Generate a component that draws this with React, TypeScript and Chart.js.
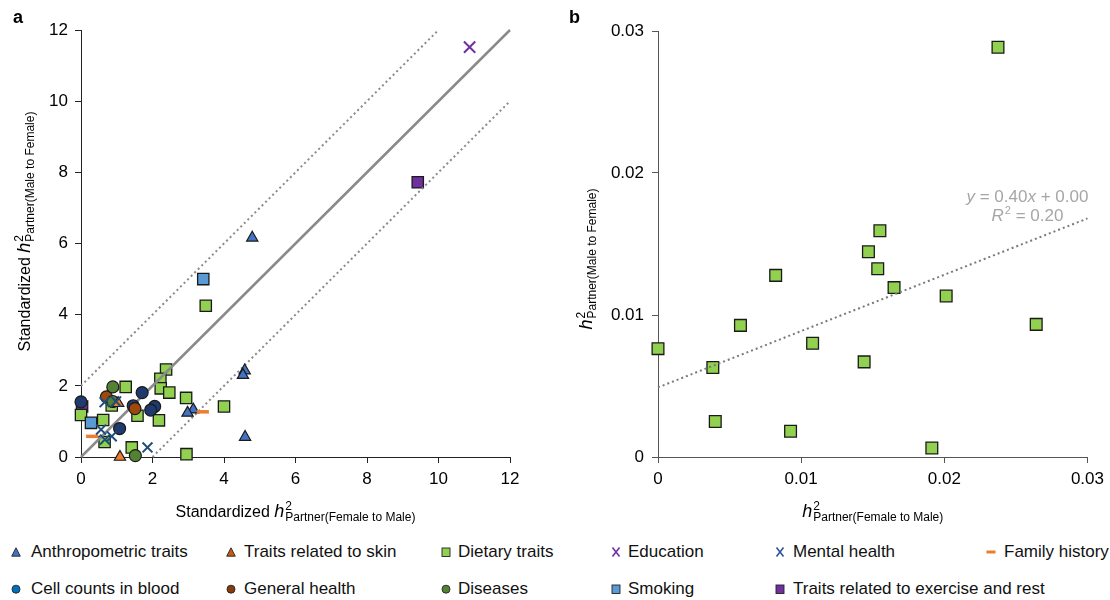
import React, { useEffect, useRef } from "react";
import { Chart, registerables } from "chart.js";
Chart.register(...registerables);

const FONT = "'Liberation Sans', Arial, Helvetica, sans-serif";

// ---------- Panel a data (standardized h2) ----------
const anthropX = [4.79, 4.58, 4.53, 4.59, 3.14, 2.98];
const anthropY = [6.16, 2.43, 2.3, 0.56, 1.33, 1.24];
const skinX = [1.09, 1.04];
const skinY = [0.0, 1.51];
const dietaryX = [3.49, 4.0, 2.94, 2.95, 2.38, 2.22, 2.23, 2.47, 2.18, 1.25, 1.58, 1.42, 0.0, 0.62, 0.66, 0.86];
const dietaryY = [4.25, 1.42, 1.66, 0.08, 2.46, 2.2, 1.93, 1.81, 1.03, 1.97, 1.16, 0.27, 1.18, 1.04, 0.42, 1.45];
const educationX = [10.87];
const educationY = [11.52];
const mentalX = [0.66, 0.98, 0.56, 0.86, 0.67, 1.86];
const mentalY = [1.54, 1.56, 0.77, 0.58, 0.49, 0.27];
const familyX = [0.31, 3.41];
const familyY = [0.58, 1.27];
const cellX = [0.0, 1.71, 2.06, 1.95, 1.46, 1.08];
const cellY = [1.55, 1.81, 1.42, 1.32, 1.44, 0.8];
const generalX = [0.71, 1.51];
const generalY = [1.69, 1.36];
const diseasesX = [0.89, 0.89, 1.52];
const diseasesY = [1.97, 1.56, 0.04];
const smokingX = [3.42, 0.28];
const smokingY = [5.0, 0.96];
const exerciseX = [9.42, 0.03];
const exerciseY = [7.72, 1.42];
const identityX = [0, 12];
const identityY = [0, 12];
const upperX = [0, 10];
const upperY = [2, 12];
const lowerX = [2, 12];
const lowerY = [0, 10];

// ---------- Panel b data (dietary traits, raw h2) ----------
const bX = [0, 0.00383, 0.004, 0.00576, 0.00822, 0.00926, 0.0108, 0.0144, 0.0147, 0.0155, 0.01535, 0.01649, 0.02013, 0.01913, 0.02375, 0.02642];
const bY = [0.00763, 0.0063, 0.0025, 0.00927, 0.01279, 0.00181, 0.00801, 0.0067, 0.01445, 0.01593, 0.01326, 0.01193, 0.01134, 0.00064, 0.02886, 0.00934];
const trendX = [0, 0.03];
const trendY = [0.0049, 0.0168];

// ---------- Legend ----------
const legendRow1 = ["Anthropometric traits", "Traits related to skin", "Dietary traits", "Education", "Mental health", "Family history"];
const legendRow1Shapes = ["triangle", "triangle", "square", "x", "x", "dash"];
const legendRow1Colors = ["#4472C4", "#C55A11", "#92D050", "#7030A0", "#2F5597", "#ED7D31"];
const legendRow2 = ["Cell counts in blood", "General health", "Diseases", "Smoking", "Traits related to exercise and rest"];
const legendRow2Shapes = ["circle", "circle", "circle", "square", "square"];
const legendRow2Colors = ["#0070C0", "#843C0C", "#548235", "#5B9BD5", "#7030A0"];
const legendMarkerX = [16, 231, 446, 616, 780, 991];
const legendTextX = [31, 244, 458, 628, 793, 1004];

const pts = (xs: number[], ys: number[]) => xs.map((x, i) => ({ x, y: ys[i] }));

type Seg = { t: string; f: string; dy?: number; dx?: number; stay?: boolean };

function drawSegs(ctx: CanvasRenderingContext2D, segs: Seg[], x: number, y: number, angle: number, anchor: number, color: string) {
  ctx.save();
  ctx.translate(x, y);
  ctx.rotate(angle);
  ctx.textBaseline = "alphabetic";
  ctx.textAlign = "left";
  ctx.fillStyle = color;
  let w = 0;
  for (const s of segs) {
    ctx.font = s.f;
    if (!s.stay) w += ctx.measureText(s.t).width + (s.dx || 0);
  }
  let cx = -w * anchor;
  for (const s of segs) {
    ctx.font = s.f;
    ctx.fillText(s.t, cx + (s.dx || 0), s.dy || 0);
    if (!s.stay) cx += ctx.measureText(s.t).width + (s.dx || 0);
  }
  ctx.restore();
}

const f = (size: number, style = "") => `${style} ${size}px ${FONT}`.trim();

function hSegs(sub: string, prefix?: string): Seg[] {
  const s: Seg[] = [];
  if (prefix) s.push({ t: prefix, f: f(16) });
  s.push({ t: "h", f: f(18, "italic") });
  s.push({ t: "2", f: f(12), dy: -7, dx: 1, stay: true });
  s.push({ t: sub, f: f(12), dy: 4, dx: 1 });
  return s;
}

function axisOpts(min: number, max: number, step: number, fmt: (v: number) => string, fit: (s: any) => void, axisColor: string, pad: number) {
  return {
    type: "linear" as const,
    min,
    max,
    ticks: {
      stepSize: step,
      color: "#000",
      font: { family: FONT, size: 17 },
      padding: pad,
      callback: (v: any) => fmt(Number(v)),
    },
    grid: { drawOnChartArea: false, drawTicks: true, tickLength: 6, color: axisColor, lineWidth: 1 },
    border: { display: true, color: axisColor, width: 1 },
    afterFit: fit,
  };
}

function pointSet(data: any[], style: string, radius: number, fill: string, stroke: string, bw: number, order: number) {
  return {
    data,
    pointStyle: style,
    pointRadius: radius,
    pointBackgroundColor: fill,
    pointBorderColor: stroke,
    pointBorderWidth: bw,
    backgroundColor: fill,
    borderColor: stroke,
    showLine: false,
    clip: false,
    order,
  };
}

function lineSet(data: any[], color: string, width: number, dash: number[], order: number) {
  return {
    data,
    showLine: true,
    pointRadius: 0,
    borderColor: color,
    borderWidth: width,
    borderDash: dash,
    borderCapStyle: "butt",
    fill: false,
    clip: false,
    order,
  };
}

function PanelA() {
  const ref = useRef<HTMLCanvasElement>(null);
  useEffect(() => {
    const edge = "#1a1a1a";
    const chart = new Chart(ref.current!, {
      type: "scatter",
      data: {
        datasets: [
          pointSet(pts(educationX, educationY), "crossRot", 8, "#7030A0", "#7030A0", 2, 0),
          pointSet(pts(mentalX, mentalY), "crossRot", 7, "#1F4E79", "#1F4E79", 2, 0),
          pointSet(pts(familyX, familyY), "line", 6, "#ED7D31", "#ED7D31", 3.5, 1),
          pointSet(pts(skinX, skinY), "triangle", 6.5, "#ED7D31", edge, 1.2, 2),
          pointSet(pts(diseasesX, diseasesY), "circle", 6, "#548235", edge, 1.2, 3),
          pointSet(pts(generalX, generalY), "circle", 6, "#9E480E", edge, 1.2, 4),
          pointSet(pts(cellX, cellY), "circle", 6, "#1F3A6E", edge, 1.2, 5),
          pointSet(pts(anthropX, anthropY), "triangle", 6.5, "#4472C4", edge, 1.2, 6),
          lineSet(pts(identityX, identityY), "#8a8a8a", 2.5, [], 7),
          lineSet(pts(upperX, upperY), "#8a8a8a", 2, [2, 3], 7),
          lineSet(pts(lowerX, lowerY), "#8a8a8a", 2, [2, 3], 7),
          pointSet(pts(smokingX, smokingY), "rect", 8, "#5B9BD5", edge, 1.3, 8),
          pointSet(pts(dietaryX, dietaryY), "rect", 8, "#92D050", edge, 1.3, 9),
          pointSet(pts(exerciseX, exerciseY), "rect", 8, "#7030A0", edge, 1.3, 10),
        ] as any,
      },
      options: {
        animation: false,
        responsive: false,
        devicePixelRatio: 1,
        events: [],
        layout: { padding: { left: 0, right: 45, top: 30, bottom: 0 } },
        plugins: { legend: { display: false }, tooltip: { enabled: false } },
        scales: {
          x: axisOpts(0, 12, 2, (v) => String(v), (s: any) => { s.height = 73; }, "#222", 6),
          y: axisOpts(0, 12, 2, (v) => String(v), (s: any) => { s.width = 81; }, "#222", 7),
        } as any,
      },
      plugins: [
        {
          id: "titlesA",
          afterDraw(c: any) {
            const ctx = c.ctx as CanvasRenderingContext2D;
            const { left, right, top, bottom } = c.chartArea;
            ctx.save();
            ctx.fillStyle = "#000";
            ctx.font = f(18, "bold");
            ctx.textBaseline = "alphabetic";
            ctx.fillText("a", 13, 23);
            ctx.restore();
            drawSegs(ctx, hSegs("Partner(Female to Male)", "Standardized "), (left + right) / 2, bottom + 60, 0, 0.5, "#000");
            drawSegs(ctx, hSegs("Partner(Male to Female)", "Standardized "), left - 51, (top + bottom) / 2 - 12, -Math.PI / 2, 0.5, "#000");
          },
        },
      ],
    });
    return () => chart.destroy();
  }, []);
  return <canvas ref={ref} width={555} height={530} style={{ position: "absolute", left: 0, top: 0 }} />;
}

function PanelB() {
  const ref = useRef<HTMLCanvasElement>(null);
  useEffect(() => {
    const edge = "#1a1a1a";
    const fmt = (v: number) => (Math.abs(v) < 1e-9 ? "0" : v.toFixed(2));
    const chart = new Chart(ref.current!, {
      type: "scatter",
      data: {
        datasets: [
          lineSet(pts(trendX, trendY), "#7a7a7a", 2, [2, 3], 0),
          pointSet(pts(bX, bY), "rect", 8.3, "#92D050", edge, 1.3, 1),
        ] as any,
      },
      options: {
        animation: false,
        responsive: false,
        devicePixelRatio: 1,
        events: [],
        layout: { padding: { left: 0, right: 22, top: 31, bottom: 0 } },
        plugins: { legend: { display: false }, tooltip: { enabled: false } },
        scales: {
          x: axisOpts(0, 0.03, 0.01, fmt, (s: any) => { s.height = 73; }, "#555", 6),
          y: axisOpts(0, 0.03, 0.01, fmt, (s: any) => { s.width = 98; }, "#555", 8),
        } as any,
      },
      plugins: [
        {
          id: "titlesB",
          afterDraw(c: any) {
            const ctx = c.ctx as CanvasRenderingContext2D;
            const { left, right, top, bottom } = c.chartArea;
            ctx.save();
            ctx.fillStyle = "#000";
            ctx.font = f(18, "bold");
            ctx.textBaseline = "alphabetic";
            ctx.fillText("b", 9, 23);
            ctx.restore();
            drawSegs(ctx, hSegs("Partner(Female to Male)"), (left + right) / 2, bottom + 60, 0, 0.5, "#000");
            drawSegs(ctx, hSegs("Partner(Male to Female)"), left - 66, (top + bottom) / 2 + 15, -Math.PI / 2, 0.5, "#000");
            const gray = "#A6A6A6";
            const cx = right - 60;
            drawSegs(ctx, [
              { t: "y", f: f(17, "italic") },
              { t: " = 0.40", f: f(17) },
              { t: "x", f: f(17, "italic") },
              { t: " + 0.00", f: f(17) },
            ], cx, 202, 0, 0.5, gray);
            drawSegs(ctx, [
              { t: "R", f: f(17, "italic") },
              { t: "2", f: f(11), dy: -7, dx: 1 },
              { t: " = 0.20", f: f(17) },
            ], cx, 221, 0, 0.5, gray);
          },
        },
      ],
    });
    return () => chart.destroy();
  }, []);
  return <canvas ref={ref} width={550} height={530} style={{ position: "absolute", left: 560, top: 0 }} />;
}

function Marker({ shape, color }: { shape: string; color: string }) {
  const st = "#222";
  let el: any = null;
  if (shape === "triangle") el = <polygon points="6,1.8 10.3,10.2 1.7,10.2" fill={color} stroke={st} strokeWidth={0.9} />;
  else if (shape === "circle") el = <circle cx={6} cy={6.2} r={4} fill={color} stroke={st} strokeWidth={0.9} />;
  else if (shape === "square") el = <rect x={2} y={2} width={8} height={8.5} fill={color} stroke={st} strokeWidth={0.9} />;
  else if (shape === "x")
    el = (
      <g stroke={color} strokeWidth={1.6}>
        <line x1={2.5} y1={1.5} x2={9.5} y2={10.5} />
        <line x1={9.5} y1={1.5} x2={2.5} y2={10.5} />
      </g>
    );
  else if (shape === "dash") el = <rect x={1.5} y={4.5} width={9} height={3} fill={color} />;
  return (
    <svg width={12} height={12} style={{ display: "block" }}>
      {el}
    </svg>
  );
}

function LegendRow({ labels, shapes, colors, top }: { labels: string[]; shapes: string[]; colors: string[]; top: number }) {
  return (
    <>
      {labels.map((lab, i) => (
        <React.Fragment key={lab}>
          <div style={{ position: "absolute", left: legendMarkerX[i] - 6, top: top + 3 }}>
            <Marker shape={shapes[i]} color={colors[i]} />
          </div>
          <div
            style={{
              position: "absolute",
              left: legendTextX[i],
              top: top,
              font: `17px/17px ${FONT}`,
              color: "#111",
              whiteSpace: "nowrap",
            }}
          >
            {lab}
          </div>
        </React.Fragment>
      ))}
    </>
  );
}

export default function App() {
  return (
    <div style={{ position: "fixed", left: 0, top: 0, width: 1110, height: 600, background: "#fff", overflow: "hidden" }}>
      <PanelA />
      <PanelB />
      <LegendRow labels={legendRow1} shapes={legendRow1Shapes} colors={legendRow1Colors} top={543} />
      <LegendRow labels={legendRow2} shapes={legendRow2Shapes} colors={legendRow2Colors} top={580} />
    </div>
  );
}
